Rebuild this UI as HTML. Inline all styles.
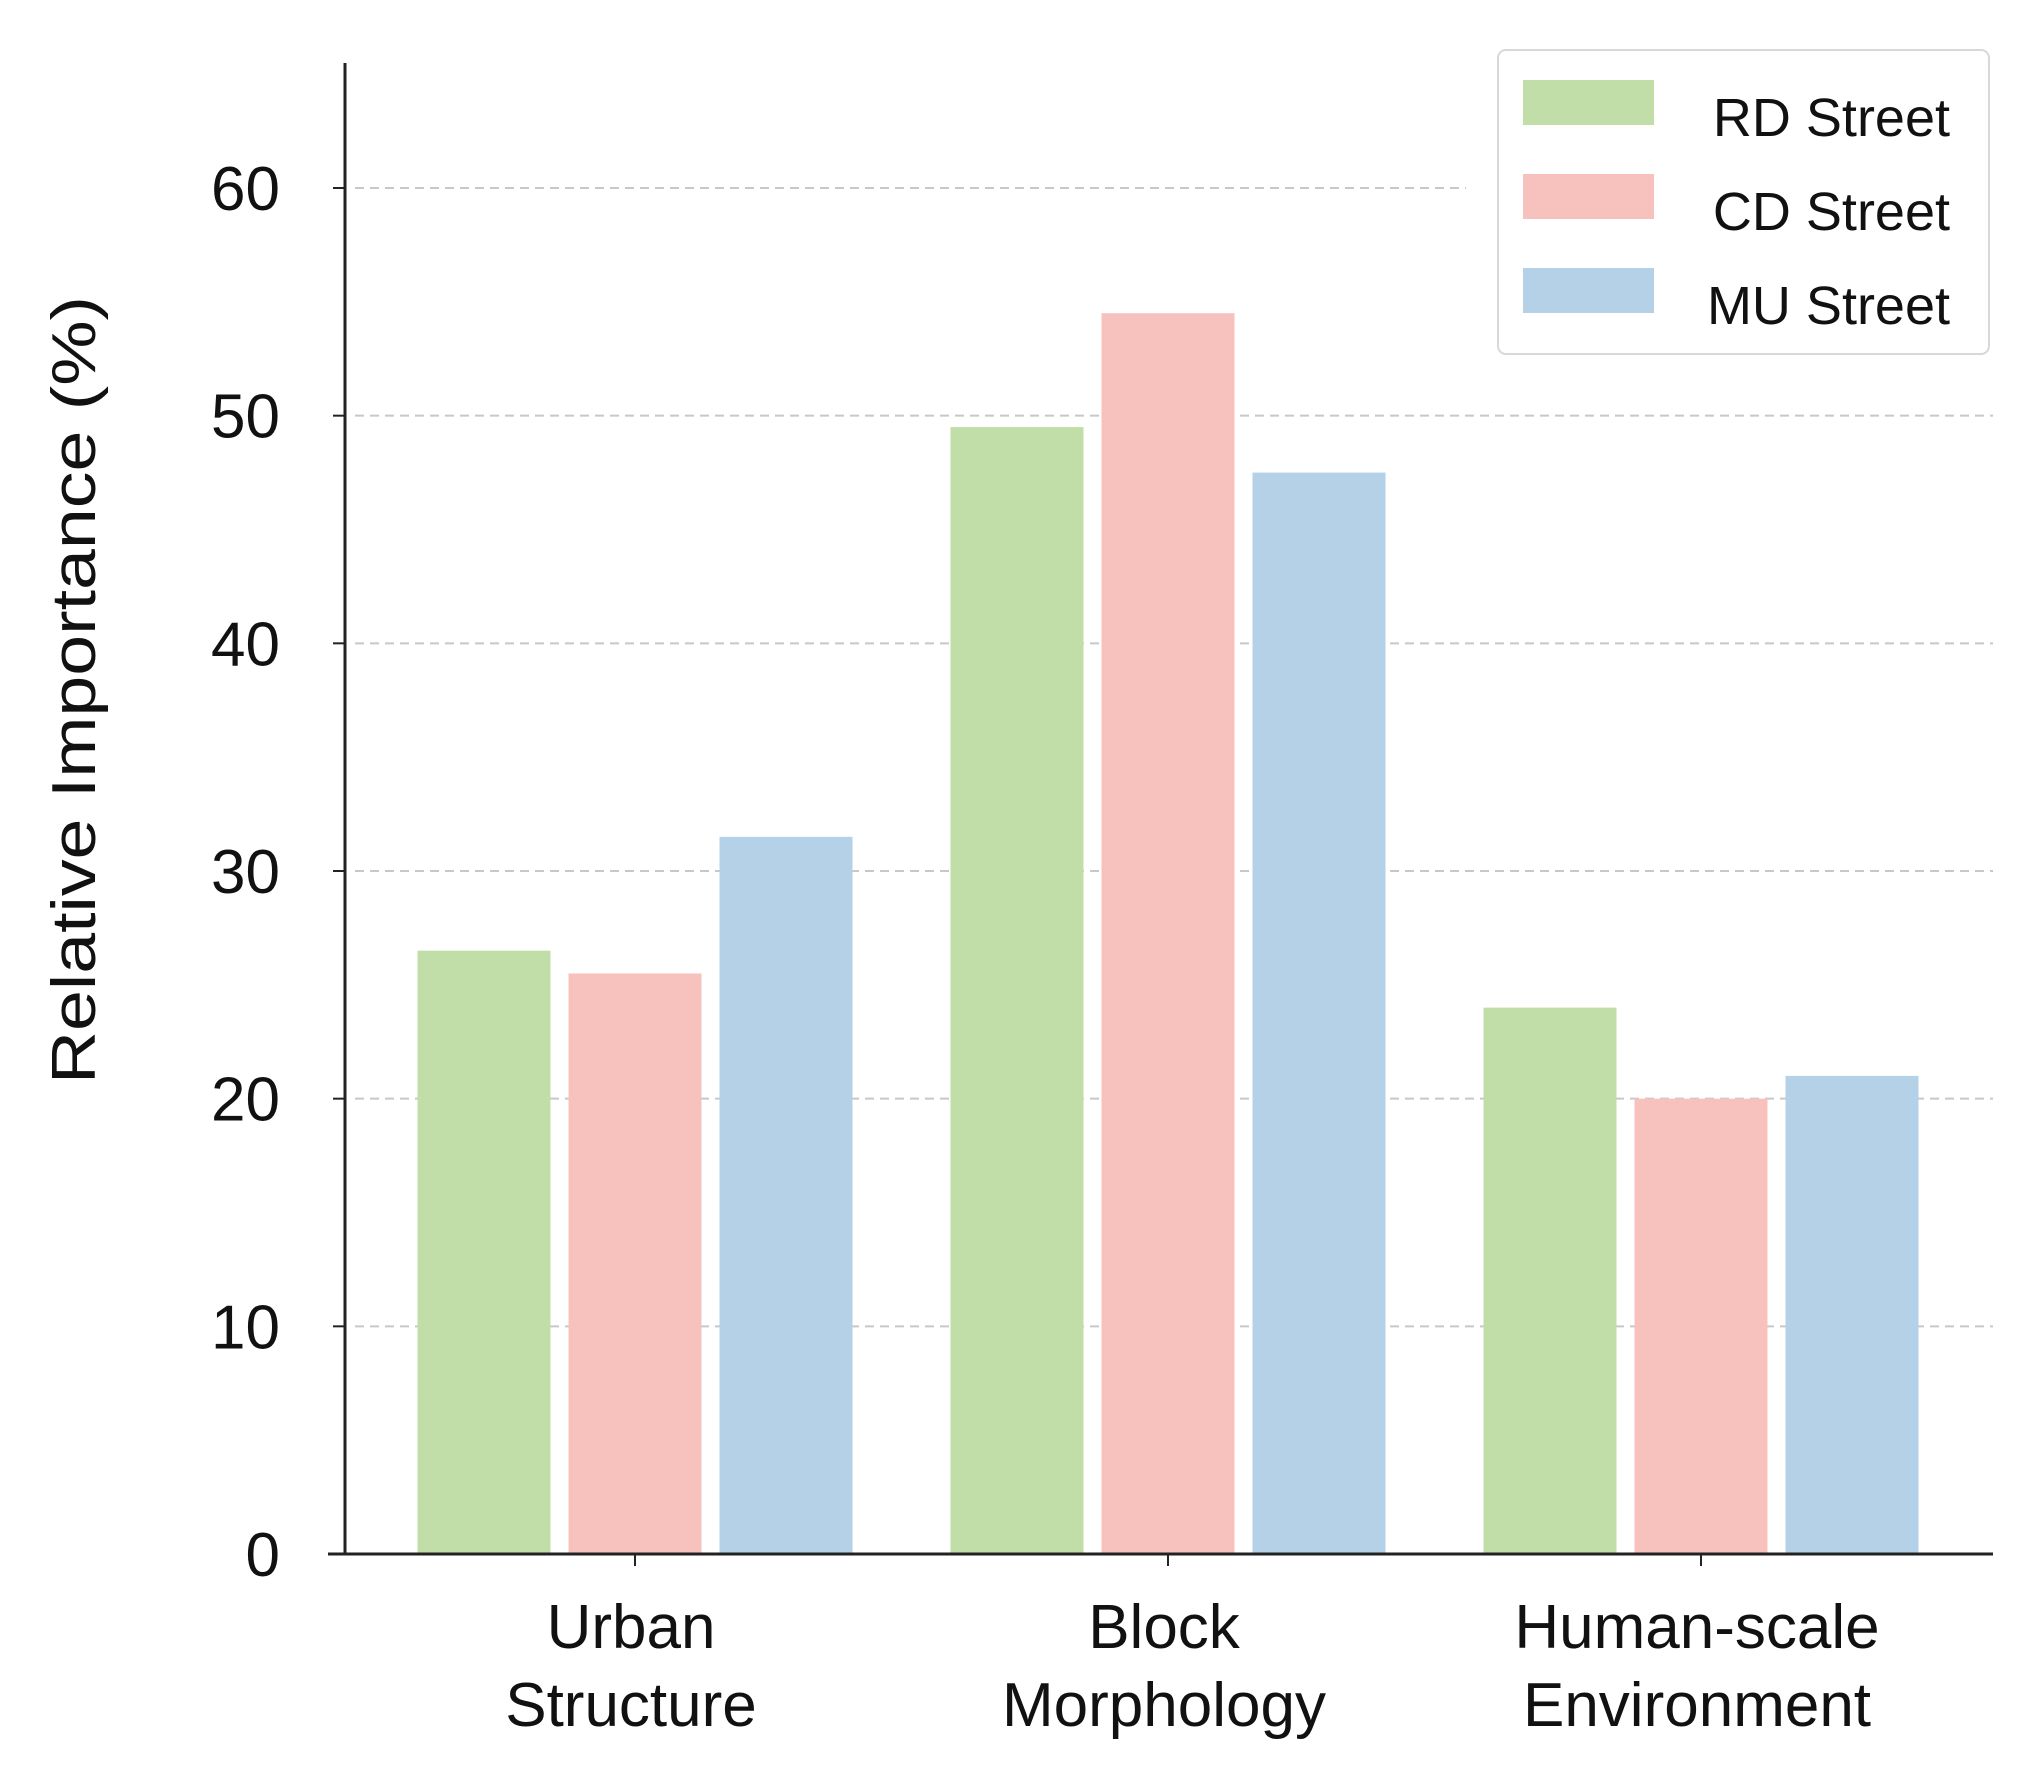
<!DOCTYPE html>
<html><head><meta charset="utf-8"><style>
body{margin:0;background:#fff}
svg{display:block;font-family:"Liberation Sans",sans-serif}
</style></head><body>
<svg id="chart" width="2033" height="1771">
<g id="grid"></g><g id="bars"></g><g id="axes"></g><g id="legend"></g>
</svg>
<script>
const categories1 = ["Urban", "Block", "Human-scale"];
const categories2 = ["Structure", "Morphology", "Environment"];
const seriesNames = ["RD Street", "CD Street", "MU Street"];
const rdValues = [26.5, 49.5, 24];
const cdValues = [25.5, 54.5, 20];
const muValues = [31.5, 47.5, 21];
const yTicks = [0, 10, 20, 30, 40, 50, 60];
const colors = ["#c1dea9", "#f7c1be", "#b5d1e7"];
const series = [rdValues, cdValues, muValues];
const NS = "http://www.w3.org/2000/svg";
const x0 = 345, x1 = 1993, y0 = 1554, yTop = 63;
const pxPer = (1554 - 188) / 60;
function yScale(v){ return y0 - v * pxPer; }
function xCenter(i){ return 635 + i * 533; }
function mk(t, a, p){ const e = document.createElementNS(NS, t); for (const k in a) e.setAttribute(k, a[k]); p.appendChild(e); return e; }
const grid = document.getElementById('grid'), bars = document.getElementById('bars'), axes = document.getElementById('axes'), legend = document.getElementById('legend');
yTicks.forEach(v => {
  if (v > 0) {
    const l = mk('line', {x1: x0 + 10, x2: v === 60 ? 1466 : x1, y1: yScale(v), y2: yScale(v), stroke: '#c8c8c8', 'stroke-width': 2, 'stroke-dasharray': '9,6'}, grid);
    
    
  }
  const tk = mk('line', {x1: x0 - 12, x2: x0, y1: yScale(v), y2: yScale(v), stroke: '#222', 'stroke-width': 2}, axes);
  
  
  const t = mk('text', {x: 280, y: yScale(v) + 22, 'text-anchor': 'end', 'font-size': 62, fill: '#111'}, axes);
  t.textContent = v;
  
  
});
series.forEach((vals, s) => {
  vals.forEach((v, i) => {
    const cx = xCenter(i) + (s - 1) * 151;
    const r = mk('rect', {x: cx - 66.5, y: yScale(v), width: 133, height: y0 - yScale(v), fill: colors[s]}, bars);
    
    
  });
});
categories1.forEach((c, i) => {
  const tk = mk('line', {x1: xCenter(i), x2: xCenter(i), y1: y0, y2: y0 + 12, stroke: '#222', 'stroke-width': 2}, axes);
  
  
  const t1 = mk('text', {x: xCenter(i) - 4, y: 1648, 'text-anchor': 'middle', 'font-size': 62, fill: '#111'}, axes);
  t1.textContent = c;
  
  
  const t2 = mk('text', {x: xCenter(i) - 4, y: 1726, 'text-anchor': 'middle', 'font-size': 62, fill: '#111'}, axes);
  t2.textContent = categories2[i];
  
  
});
const ya = mk('line', {x1: x0, x2: x0, y1: yTop, y2: y0, stroke: '#222', 'stroke-width': 3}, axes);


const xa = mk('line', {x1: 328, x2: x1, y1: y0, y2: y0, stroke: '#222', 'stroke-width': 3}, axes);


const yt = mk('text', {x: 0, y: 0, transform: 'translate(95,690) rotate(-90)', 'text-anchor': 'middle', 'font-size': 62, fill: '#111', textLength: 788, lengthAdjust: 'spacingAndGlyphs'}, axes);
yt.textContent = 'Relative Importance (%)';


const box = mk('rect', {x: 1498, y: 50, width: 491, height: 304, rx: 8, fill: '#fff', stroke: '#d8d8d8', 'stroke-width': 2}, legend);


const ly = [80, 174, 268];
seriesNames.forEach((n, s) => {
  const p = mk('rect', {x: 1523, y: ly[s], width: 131, height: 45, fill: colors[s]}, legend);
  
  
  const t = mk('text', {x: 1950, y: ly[s] + 56, 'text-anchor': 'end', 'font-size': 54, fill: '#111'}, legend);
  t.textContent = n;
  
  
});
</script>
</body></html>
